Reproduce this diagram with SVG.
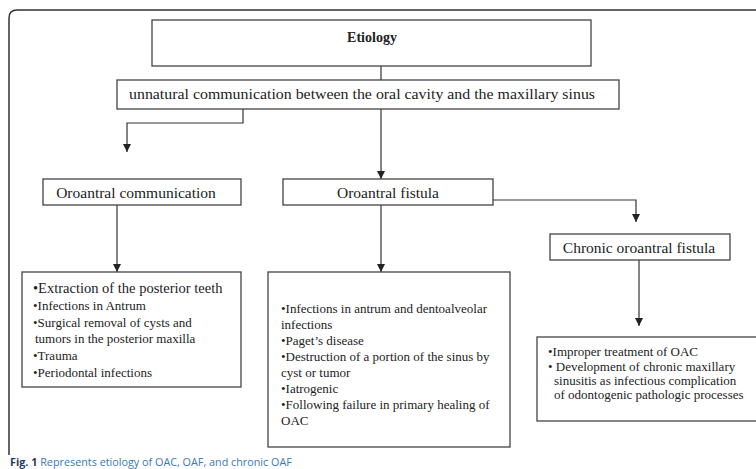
<svg xmlns="http://www.w3.org/2000/svg" width="756" height="469" viewBox="0 0 756 469">
<defs>
<marker id="ah" viewBox="0 0 10 10" refX="10" refY="5" markerWidth="8" markerHeight="8" markerUnits="userSpaceOnUse" orient="auto">
<path d="M0,0 L10,5 L0,10 z" fill="#222"/>
</marker>
<style>
.box{fill:#fff;stroke:#444;stroke-width:1.3}
.t{fill:#222}
.c{stroke:#333;stroke-width:1.2;fill:none}
.ca{stroke:#333;stroke-width:1.2;fill:none;marker-end:url(#ah)}
</style>
</defs>
<rect width="756" height="469" fill="#fff"/>
<path d="M9,455 L9,18 Q9,10 17,10 L756,10" fill="none" stroke="#333" stroke-width="1.5"/>

<g id="connectors">
<path class="c" d="M381,66 L381,80"/>
<path class="ca" d="M243,109 L243,123 L127,123 L127,152"/>
<path class="ca" d="M381,109 L381,179"/>
<path class="ca" d="M117,205 L117,272"/>
<path class="ca" d="M381,205 L381,272"/>
<path class="ca" d="M493,200 L636,200 L636,222"/>
<path class="ca" d="M639,260 L639,326"/>
</g>

<g font-family="Liberation Serif, Times New Roman, serif">
<g id="etiology">
<rect class="box" x="152" y="20" width="439" height="46"/>
<text class="t" x="372" y="42" font-size="14" font-weight="bold" text-anchor="middle">Etiology</text>
</g>

<g id="unnatural">
<rect class="box" x="117" y="80" width="502" height="29"/>
<text class="t" x="129" y="99" font-size="14.5" textLength="466" lengthAdjust="spacingAndGlyphs">unnatural communication between the oral cavity and the maxillary sinus</text>
</g>

<g id="oac">
<rect class="box" x="43" y="179" width="198" height="26"/>
<text class="t" x="136" y="198" font-size="15.5" text-anchor="middle">Oroantral communication</text>
</g>

<g id="oaf">
<rect class="box" x="283" y="179" width="210" height="26"/>
<text class="t" x="388" y="198" font-size="15.5" text-anchor="middle">Oroantral fistula</text>
</g>

<g id="chronic">
<rect class="box" x="550" y="234" width="180" height="26"/>
<text class="t" x="639" y="253" font-size="15.5" text-anchor="middle">Chronic oroantral fistula</text>
</g>

<g id="oac-causes">
<rect class="box" x="22" y="272" width="219" height="115"/>
<text class="t" x="33" y="293" font-size="14.5">•Extraction of the posterior teeth</text>
<text class="t" font-size="13">
<tspan x="33" y="310">•Infections in Antrum</tspan>
<tspan x="33" y="327">•Surgical removal of cysts and</tspan>
<tspan x="35" y="343"> tumors in the posterior maxilla</tspan>
<tspan x="33" y="360">•Trauma</tspan>
<tspan x="33" y="377">•Periodontal infections</tspan>
</text>
</g>

<g id="oaf-causes">
<rect class="box" x="268" y="272" width="242" height="175"/>
<text class="t" font-size="13">
<tspan x="281" y="313">•Infections in antrum and dentoalveolar</tspan>
<tspan x="281" y="329">infections</tspan>
<tspan x="281" y="345">•Paget’s disease</tspan>
<tspan x="281" y="361">•Destruction of a portion of the sinus by</tspan>
<tspan x="281" y="377">cyst or tumor</tspan>
<tspan x="281" y="393">•Iatrogenic</tspan>
<tspan x="281" y="409">•Following failure in primary healing of</tspan>
<tspan x="281" y="425">OAC</tspan>
</text>
</g>

<g id="chronic-causes">
<rect class="box" x="537" y="337" width="222" height="84"/>
<text class="t" font-size="13">
<tspan x="548" y="356">•Improper treatment of OAC</tspan>
<tspan x="548" y="371">• Development of chronic maxillary</tspan>
<tspan x="554" y="385">sinusitis as infectious complication</tspan>
<tspan x="554" y="399">of odontogenic pathologic processes</tspan>
</text>
</g>
</g>

<text x="10" y="466" font-family="Open Sans, Noto Sans, sans-serif" font-size="10.8"><tspan font-weight="bold" fill="#1f3b60">Fig. 1</tspan><tspan fill="#3a78b8"> Represents etiology of OAC, OAF, and chronic OAF</tspan></text>
</svg>
